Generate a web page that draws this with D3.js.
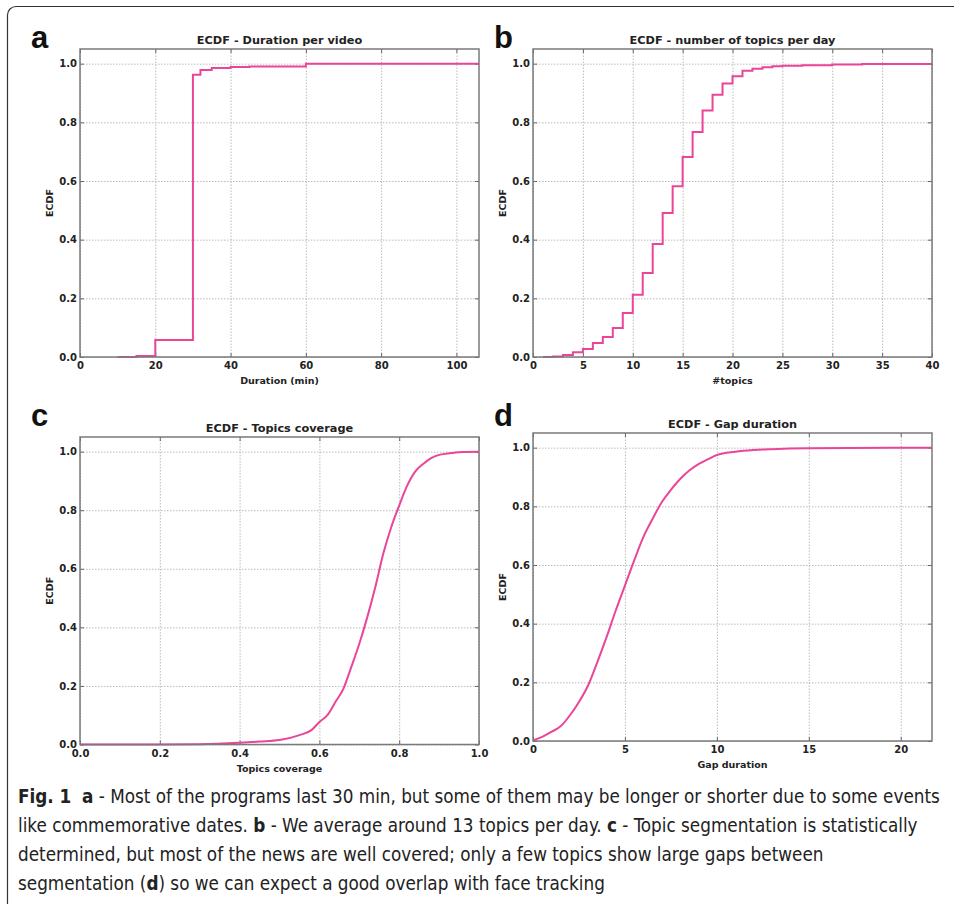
<!DOCTYPE html>
<html>
<head>
<meta charset="utf-8">
<script src="https://cdn.jsdelivr.net/npm/d3@7"></script>
<style>
body { margin: 0; background: #fff; }
svg { display: block; }
.axis text { font-family: "DejaVu Sans", sans-serif; font-weight: bold; font-size: 10px; fill: #222; }
.axis .domain { display: none; }
.axis line { stroke: #666; }
.grid line { stroke: #bbb; stroke-dasharray: 1.5,1.5; }
.grid .domain { display: none; }
.title { font-family: "DejaVu Sans", sans-serif; font-weight: bold; font-size: 11.3px; fill: #222; }
.alabel { font-family: "DejaVu Sans", sans-serif; font-weight: bold; font-size: 9.5px; fill: #222; }
.letter { font-family: "Liberation Sans", Arial, sans-serif; font-weight: bold; font-size: 31px; fill: #111; }
.caption { font-family: "Liberation Sans Narrow", "DejaVu Sans Condensed", sans-serif; font-stretch: condensed; fill: #222; }
.caption .b { font-weight: bold; }
</style>
</head>
<body>
<svg id="fig" width="954" height="904"></svg>
<script>
// a - duration per video (min), step ECDF
const durX = [10, 15, 20, 30, 32, 35, 40, 45, 60, 106];
const durY = [0, 0.003, 0.058, 0.962, 0.978, 0.985, 0.989, 0.990, 1.0, 1.0];
const durTicks = [0, 20, 40, 60, 80, 100];

// b - number of topics per day, step ECDF
const topicsX = [1, 2, 3, 4, 5, 6, 7, 8, 9, 10, 11, 12, 13, 14, 15, 16, 17, 18, 19, 20,
                 21, 22, 23, 24, 25, 27, 30, 33, 40];
const topicsY = [0, 0.002, 0.007, 0.016, 0.027, 0.048, 0.068, 0.099, 0.150, 0.212, 0.286,
                 0.385, 0.491, 0.582, 0.682, 0.767, 0.840, 0.894, 0.932, 0.957, 0.976,
                 0.983, 0.988, 0.991, 0.993, 0.995, 0.997, 0.999, 1.0];
const topicsTicks = [0, 5, 10, 15, 20, 25, 30, 35, 40];

// c - topics coverage
const covX = [0, 0.2, 0.3, 0.4, 0.45, 0.5, 0.55, 0.58, 0.6, 0.62, 0.64, 0.66, 0.68, 0.7,
              0.72, 0.74, 0.76, 0.78, 0.8, 0.82, 0.84, 0.86, 0.88, 0.9, 0.93, 0.96, 1.0];
const covY = [0, 0, 0.001, 0.006, 0.01, 0.015, 0.032, 0.049, 0.077, 0.1, 0.145, 0.19, 0.265,
              0.344, 0.435, 0.537, 0.651, 0.742, 0.816, 0.884, 0.932, 0.958, 0.978, 0.989,
              0.995, 0.999, 1.0];
const covTicks = [0, 0.2, 0.4, 0.6, 0.8, 1.0];

// d - gap duration
const gapX = [0, 0.5, 1, 1.5, 2, 2.5, 3, 3.5, 4, 4.5, 5, 5.5, 6, 6.5, 7, 7.5, 8, 8.5, 9, 9.5,
              10, 11, 12, 13, 15, 21.7];
const gapY = [0.002, 0.014, 0.031, 0.05, 0.087, 0.133, 0.19, 0.269, 0.354, 0.445, 0.53, 0.615,
              0.695, 0.757, 0.814, 0.856, 0.893, 0.922, 0.944, 0.96, 0.975, 0.986, 0.992,
              0.995, 0.998, 1.0];
const gapTicks = [0, 5, 10, 15, 20];

const ecdfTicks = [0, 0.2, 0.4, 0.6, 0.8, 1.0];

const lineColor = "#ea4597";

const svg = d3.select("#fig");

// outer frame (top + left edge with rounded corner)
svg.append("path")
   .attr("d", "M954,6.5 H16 A8.5,8.5 0 0 0 7.5,15 V904")
   .attr("fill", "none")
   .attr("stroke", "#333")
   .attr("stroke-width", 1.2);

function panel(p) {
	let x = d3.scaleLinear().domain(p.xDomain).range([0, p.w]);
	let y = d3.scaleLinear().domain([0, 1.05]).range([p.h, 0]);

	let g = svg.append("g").attr("transform", "translate(" + p.left + "," + p.top + ")");

	// dotted grid
	g.append("g").attr("class", "grid")
	 .attr("transform", "translate(0," + p.h + ")")
	 .call(d3.axisBottom(x).tickValues(p.xTicks).tickSize(-p.h).tickFormat(""));
	g.append("g").attr("class", "grid")
	 .call(d3.axisLeft(y).tickValues(ecdfTicks).tickSize(-p.w).tickFormat(""));

	// axes with inward ticks
	g.append("g").attr("class", "axis")
	 .attr("transform", "translate(0," + p.h + ")")
	 .call(d3.axisBottom(x).tickValues(p.xTicks).tickSize(-4).tickPadding(5).tickFormat(p.xFmt));
	g.append("g").attr("class", "axis")
	 .call(d3.axisTop(x).tickValues(p.xTicks).tickSize(-4).tickFormat(""));
	g.append("g").attr("class", "axis")
	 .call(d3.axisLeft(y).tickValues(ecdfTicks).tickSize(-4).tickPadding(3).tickFormat(d3.format(".1f")));
	g.append("g").attr("class", "axis")
	 .attr("transform", "translate(" + p.w + ",0)")
	 .call(d3.axisRight(y).tickValues(ecdfTicks).tickSize(-4).tickFormat(""));

	let pts = p.xs.map((v, i) => [v, p.ys[i]]);
	let line = d3.line()
	             .x(d => x(d[0]))
	             .y(d => y(d[1]))
	             .curve(p.curve);

	g.append("path")
	 .datum(pts)
	 .attr("d", line)
	 .attr("fill", "none")
	 .attr("stroke", lineColor)
	 .attr("stroke-width", 2);

	g.append("rect")
	 .attr("width", p.w).attr("height", p.h)
	 .attr("fill", "none")
	 .attr("stroke", "#7a7a7a")
	 .attr("stroke-width", 1.5);

	g.append("text").attr("class", "title")
	 .attr("x", p.w / 2).attr("y", -5)
	 .attr("text-anchor", "middle")
	 .text(p.title);

	g.append("text").attr("class", "alabel")
	 .attr("x", p.w / 2).attr("y", p.h + 27)
	 .attr("text-anchor", "middle")
	 .text(p.xlabel);

	g.append("text").attr("class", "alabel")
	 .attr("transform", "translate(-27," + (p.h / 2) + ") rotate(-90)")
	 .attr("text-anchor", "middle")
	 .text("ECDF");

	svg.append("text").attr("class", "letter")
	   .attr("x", p.lx).attr("y", p.ly)
	   .text(p.letter);
}

panel({left: 80, top: 49, w: 399, h: 308, xDomain: [0, 106], xTicks: durTicks, xFmt: d3.format("d"),
       xs: durX, ys: durY, curve: d3.curveStepAfter,
       title: "ECDF - Duration per video", xlabel: "Duration (min)", letter: "a", lx: 31, ly: 48});
panel({left: 533, top: 49, w: 399, h: 308, xDomain: [0, 40], xTicks: topicsTicks, xFmt: d3.format("d"),
       xs: topicsX, ys: topicsY, curve: d3.curveStepAfter,
       title: "ECDF - number of topics per day", xlabel: "#topics", letter: "b", lx: 494, ly: 48});
panel({left: 80, top: 437, w: 399, h: 307.5, xDomain: [0, 1], xTicks: covTicks, xFmt: d3.format(".1f"),
       xs: covX, ys: covY, curve: d3.curveMonotoneX,
       title: "ECDF - Topics coverage", xlabel: "Topics coverage", letter: "c", lx: 31, ly: 426});
panel({left: 533, top: 433, w: 399, h: 308, xDomain: [0, 21.7], xTicks: gapTicks, xFmt: d3.format("d"),
       xs: gapX, ys: gapY, curve: d3.curveMonotoneX,
       title: "ECDF - Gap duration", xlabel: "Gap duration", letter: "d", lx: 494, ly: 426});

// caption
const captionLines = [
	[["Fig. 1", true], ["\u00a0\u00a0", false], ["a", true], [" - Most of the programs last 30 min, but some of them may be longer or shorter due to some events", false]],
	[["like commemorative dates. ", false], ["b", true], [" - We average around 13 topics per day. ", false], ["c", true], [" - Topic segmentation is statistically", false]],
	[["determined, but most of the news are well covered; only a few topics show large gaps between", false]],
	[["segmentation (", false], ["d", true], [") so we can expect a good overlap with face tracking", false]]
];

let cap = svg.append("text").attr("class", "caption").attr("font-size", 17);
captionLines.forEach((ln, i) => {
	let row = cap.append("tspan").attr("x", 18).attr("y", 803 + i * 29);
	ln.forEach(s => {
		row.append("tspan").attr("class", s[1] ? "b" : null).text(s[0]);
	});
});
// fit the first line to the caption width
let firstW = cap.select("tspan").node().getComputedTextLength();
cap.attr("font-size", 17 * 922 / firstW);
</script>
</body>
</html>
